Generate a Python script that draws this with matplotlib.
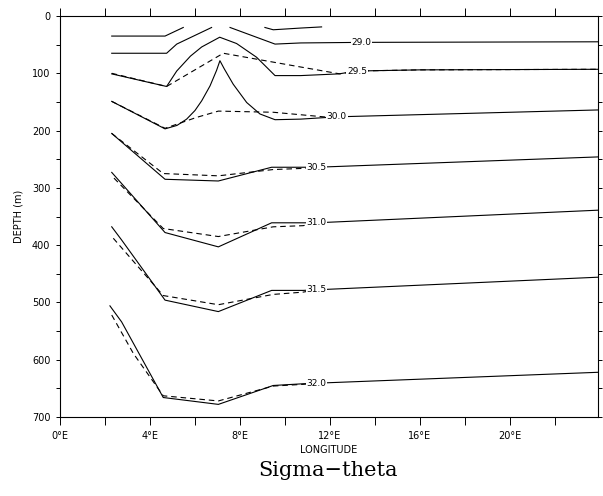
import matplotlib
matplotlib.use("Agg")
import matplotlib.pyplot as plt
from matplotlib.ticker import MultipleLocator

# contour lines read off the section: longitude (deg E) and depth (m)
# solid = one survey, dashed = the other

s285_lon_a = [2.30, 4.67, 5.48]
s285_dep_a = [35, 35, 20]
s285_lon_b = [9.11, 9.48, 10.7, 11.63]
s285_dep_b = [20, 24, 21, 19]

s290_lon_a = [2.30, 4.74, 5.19, 6.74]
s290_dep_a = [65, 65, 49, 20]
s290_lon_b = [7.56, 9.56, 10.7, 13.4, 23.9]
s290_dep_b = [20, 49, 47, 46, 45]

s295_lon = [2.30, 4.74, 5.19, 5.8, 6.3, 7.1, 7.85, 8.74, 9.56, 10.7, 12.4, 13.2, 16.0, 23.9]
s295_dep = [101, 123, 96, 70, 54, 37, 48, 72, 104, 104, 101, 96, 94, 93]
d295_lon = [2.30, 4.74, 7.26, 10.7, 12.44, 13.2, 16.0, 23.9]
d295_dep = [100, 123, 65, 89, 101, 96, 94, 93]

s300_lon = [2.30, 4.67, 5.2, 5.63, 6.0, 6.3, 6.67, 6.96, 7.11, 7.3, 7.70, 8.30, 8.89, 9.56, 10.7, 12.3, 23.9]
s300_dep = [149, 197, 191, 180, 165, 148, 122, 95, 78, 92, 119, 151, 171, 181, 180, 176, 164]
d300_lon = [2.30, 4.67, 6.07, 7.04, 9.48, 12.0, 12.3]
d300_dep = [149, 196, 177, 166, 168, 177, 176]

s305_lon = [2.30, 4.67, 7.04, 9.41, 10.81, 11.4, 23.9]
s305_dep = [205, 285, 288, 264, 264, 264, 246]
d305_lon = [2.30, 4.59, 7.04, 9.48, 10.81, 11.4]
d305_dep = [205, 275, 279, 268, 266, 264]

s310_lon = [2.30, 4.67, 7.04, 9.41, 10.81, 11.4, 23.9]
s310_dep = [273, 378, 403, 361, 361, 361, 339]
d310_lon = [2.40, 4.59, 7.04, 9.48, 10.81, 11.4]
d310_dep = [283, 371, 385, 368, 366, 361]

s315_lon = [2.30, 2.74, 4.67, 7.04, 9.41, 10.81, 11.4, 23.9]
s315_dep = [368, 391, 496, 516, 479, 479, 478, 456]
d315_lon = [2.37, 4.59, 7.04, 9.48, 10.81, 11.4]
d315_dep = [388, 488, 504, 486, 482, 478]

s320_lon = [2.22, 2.74, 4.59, 7.04, 9.48, 10.81, 11.4, 23.9]
s320_dep = [506, 534, 666, 678, 645, 642, 641, 622]
d320_lon = [2.30, 3.26, 4.59, 7.04, 9.48, 10.81, 11.4]
d320_dep = [522, 589, 663, 672, 646, 643, 641]

label_text = ["29.0", "29.5", "30.0", "30.5", "31.0", "31.5", "32.0"]
label_lon = [13.4, 13.2, 12.3, 11.4, 11.4, 11.4, 11.4]
label_dep = [46, 96, 176, 264, 361, 478, 641]

x_ticks = [0, 4, 8, 12, 16, 20]
x_tick_labels = ["0°E", "4°E", "8°E", "12°E", "16°E", "20°E"]
y_ticks = [0, 100, 200, 300, 400, 500, 600, 700]


fig = plt.figure(figsize=(6.03, 4.96), dpi=100)
ax = fig.add_axes([0.0995, 0.1593, 0.8915, 0.8084])

solid = dict(color="black", lw=0.8, ls="-")
dashed = dict(color="black", lw=0.8, ls=(0, (5, 3.5)))

ax.plot(s285_lon_a, s285_dep_a, **solid)
ax.plot(s285_lon_b, s285_dep_b, **solid)
ax.plot(s290_lon_a, s290_dep_a, **solid)
ax.plot(s290_lon_b, s290_dep_b, **solid)
ax.plot(s295_lon, s295_dep, **solid)
ax.plot(d295_lon, d295_dep, **dashed)
ax.plot(s300_lon, s300_dep, **solid)
ax.plot(d300_lon, d300_dep, **dashed)
ax.plot(s305_lon, s305_dep, **solid)
ax.plot(d305_lon, d305_dep, **dashed)
ax.plot(s310_lon, s310_dep, **solid)
ax.plot(d310_lon, d310_dep, **dashed)
ax.plot(s315_lon, s315_dep, **solid)
ax.plot(d315_lon, d315_dep, **dashed)
ax.plot(s320_lon, s320_dep, **solid)
ax.plot(d320_lon, d320_dep, **dashed)

for txt, lo, de in zip(label_text, label_lon, label_dep):
    ax.text(lo, de, txt, fontsize=6.5, ha="center", va="center",
            bbox=dict(facecolor="white", edgecolor="none", pad=0.6))

ax.set_xlim(0, 23.9)
ax.set_ylim(700, 0)

ax.set_xticks(x_ticks)
ax.set_xticklabels(x_tick_labels)
ax.xaxis.set_minor_locator(MultipleLocator(2))
ax.set_yticks(y_ticks)
ax.yaxis.set_minor_locator(MultipleLocator(50))

ax.tick_params(axis="x", which="both", direction="out", length=6, width=0.7,
               top=True, labelsize=7, pad=4)
ax.tick_params(axis="y", which="both", direction="out", length=3, width=0.7,
               right=True, labelsize=7, pad=4)

for sp in ax.spines.values():
    sp.set_linewidth(0.8)

ax.set_xlabel("LONGITUDE", fontsize=7, labelpad=3)
ax.set_ylabel("DEPTH (m)", fontsize=7, labelpad=6)

fig.text(0.544, 0.052, "Sigma\u2212theta", fontsize=15, family="DejaVu Serif",
         ha="center", va="center")

fig.savefig("out.png", dpi=100)
